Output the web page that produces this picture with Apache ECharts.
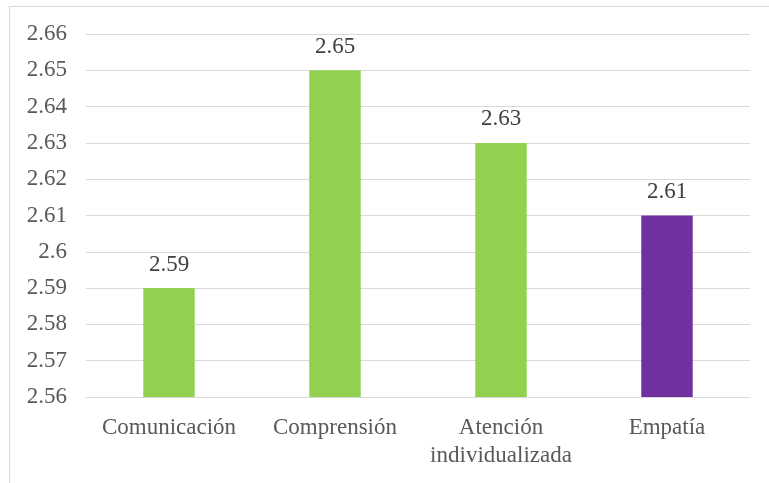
<!DOCTYPE html>
<html>
<head>
<meta charset="utf-8">
<script src="https://cdn.jsdelivr.net/npm/echarts@6/dist/echarts.min.js"></script>
<style>
html,body{margin:0;padding:0;background:#fff;}
#chart{width:769px;height:483px;}
</style>
</head>
<body>
<div id="chart"></div>
<script>
const categories = ['Comunicación', 'Comprensión', 'Atención\nindividualizada', 'Empatía'];
const values = [2.59, 2.65, 2.63, 2.61];
const barColors = ['#92D050', '#92D050', '#92D050', '#7030A0'];
const yMin = 2.56, yMax = 2.66, yStep = 0.01;

const FONT = 'Liberation Serif';
const chart = echarts.init(document.getElementById('chart'), null, {renderer: 'canvas'});
chart.setOption({
  animation: false,
  backgroundColor: '#ffffff',
  graphic: [{
    type: 'rect',
    shape: {x: 9.5, y: 6.5, width: 800, height: 520},
    style: {fill: 'none', stroke: '#d9d9d9', lineWidth: 1},
    silent: true,
    z: -10
  }],
  grid: {left: 86, right: 19, top: 34, bottom: 86, containLabel: false},
  xAxis: {
    type: 'category',
    data: categories,
    axisLine: {show: true, lineStyle: {color: '#d9d9d9', width: 1}},
    axisTick: {show: false},
    axisLabel: {
      color: '#595959', fontFamily: FONT, fontSize: 23, margin: 17, lineHeight: 28, interval: 0
    }
  },
  yAxis: {
    type: 'value',
    min: yMin, max: yMax, interval: yStep,
    axisLine: {show: false},
    axisTick: {show: false},
    splitLine: {lineStyle: {color: '#d9d9d9', width: 1}},
    axisLabel: {
      color: '#595959', fontFamily: FONT, fontSize: 23, margin: 19,
      formatter: v => String(parseFloat(v.toFixed(2)))
    }
  },
  series: [{
    type: 'bar',
    data: values.map((v, i) => ({value: v, itemStyle: {color: barColors[i]}})),
    barWidth: '31%',
    label: {
      show: true, position: 'top', distance: 12,
      color: '#404040', fontFamily: FONT, fontSize: 23,
      formatter: p => p.value.toFixed(2)
    }
  }]
});
</script>
</body>
</html>
